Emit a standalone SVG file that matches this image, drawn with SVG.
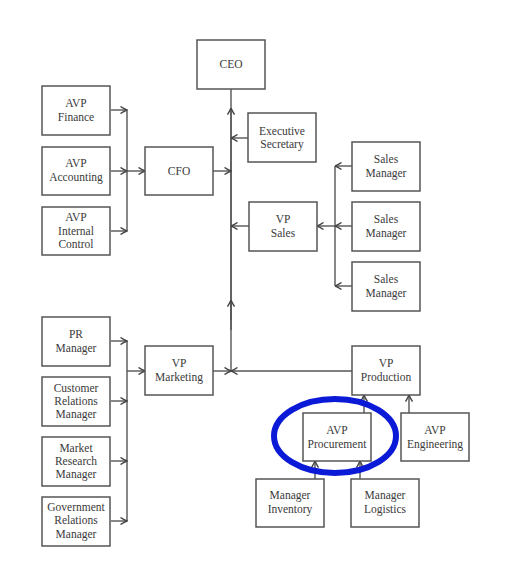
<svg xmlns="http://www.w3.org/2000/svg" width="512" height="588" viewBox="0 0 512 588">
<style>
.b{fill:#fff;stroke:#555;stroke-width:1.5}
.t{font-family:"Liberation Serif",serif;font-size:11.5px;fill:#3a3a3a;text-anchor:middle}
.c{fill:none;stroke:#555;stroke-width:1.4}
.a{marker-end:url(#arr)}
</style>
<defs>
<marker id="arr" viewBox="0 0 8 8" refX="7.5" refY="4" markerWidth="8" markerHeight="8" markerUnits="userSpaceOnUse" orient="auto">
<path d="M1,0.5 Q4,2.5 7.5,4 Q4,5.5 1,7.5" fill="none" stroke="#444" stroke-width="1.4"/>
</marker>
</defs>
<rect width="512" height="588" fill="#fff"/>
<g id="connectors">
<path class="c" d="M231,89 V371"/>
<path class="c a" d="M231,320 V108"/>
<path class="c a" d="M231,330 V300"/>
<path class="c a" d="M111,110 H127"/>
<path class="c a" d="M111,171 H127"/>
<path class="c a" d="M111,231 H127"/>
<path class="c" d="M127,110 V231"/>
<path class="c a" d="M127,171 H145"/>
<path class="c a" d="M213,171 H231"/>
<path class="c a" d="M248,138 H231"/>
<path class="c a" d="M249,226 H231"/>
<path class="c" d="M335,166 V286"/>
<path class="c a" d="M352,166 H335"/>
<path class="c a" d="M352,226 H335"/>
<path class="c a" d="M352,286 H335"/>
<path class="c a" d="M335,226 H317"/>
<path class="c a" d="M213,371 H231"/>
<path class="c a" d="M352,371 H231"/>
<path class="c" d="M127,341 V521"/>
<path class="c a" d="M111,341 H127"/>
<path class="c a" d="M111,401 H127"/>
<path class="c a" d="M111,461 H127"/>
<path class="c a" d="M111,521 H127"/>
<path class="c a" d="M127,371 H145"/>
<path class="c a" d="M364,413 V395"/>
<path class="c a" d="M409,413 V395"/>
<path class="c a" d="M315,479 V461"/>
<path class="c a" d="M360,479 V461"/>
</g>
<g id="ceo"><rect class="b" x="197" y="40" width="68" height="49"/><text class="t" x="231" y="68">CEO</text></g>
<g id="avp-finance"><rect class="b" x="42" y="86" width="68" height="49"/><text class="t" x="76" y="107">AVP</text><text class="t" x="76" y="121">Finance</text></g>
<g id="avp-accounting"><rect class="b" x="42" y="147" width="68" height="48"/><text class="t" x="76" y="167">AVP</text><text class="t" x="76" y="181">Accounting</text></g>
<g id="avp-internal-control"><rect class="b" x="42" y="207" width="68" height="48"/><text class="t" x="76" y="221">AVP</text><text class="t" x="76" y="235">Internal</text><text class="t" x="76" y="248">Control</text></g>
<g id="cfo"><rect class="b" x="145" y="147" width="68" height="48"/><text class="t" x="179" y="175">CFO</text></g>
<g id="executive-secretary"><rect class="b" x="248" y="113" width="68" height="49"/><text class="t" x="282" y="135">Executive</text><text class="t" x="282" y="148">Secretary</text></g>
<g id="sales-manager-1"><rect class="b" x="352" y="142" width="68" height="49"/><text class="t" x="386" y="163">Sales</text><text class="t" x="386" y="177">Manager</text></g>
<g id="sales-manager-2"><rect class="b" x="352" y="202" width="68" height="49"/><text class="t" x="386" y="223">Sales</text><text class="t" x="386" y="237">Manager</text></g>
<g id="sales-manager-3"><rect class="b" x="352" y="262" width="68" height="49"/><text class="t" x="386" y="283">Sales</text><text class="t" x="386" y="297">Manager</text></g>
<g id="vp-sales"><rect class="b" x="249" y="202" width="68" height="49"/><text class="t" x="283" y="223">VP</text><text class="t" x="283" y="237">Sales</text></g>
<g id="pr-manager"><rect class="b" x="42" y="317" width="68" height="49"/><text class="t" x="76" y="338">PR</text><text class="t" x="76" y="352">Manager</text></g>
<g id="customer-relations-manager"><rect class="b" x="42" y="377" width="68" height="49"/><text class="t" x="76" y="392">Customer</text><text class="t" x="76" y="405">Relations</text><text class="t" x="76" y="418">Manager</text></g>
<g id="market-research-manager"><rect class="b" x="42" y="437" width="68" height="49"/><text class="t" x="76" y="452">Market</text><text class="t" x="76" y="465">Research</text><text class="t" x="76" y="478">Manager</text></g>
<g id="government-relations-manager"><rect class="b" x="42" y="497" width="68" height="49"/><text class="t" x="76" y="511">Government</text><text class="t" x="76" y="524">Relations</text><text class="t" x="76" y="538">Manager</text></g>
<g id="vp-marketing"><rect class="b" x="145" y="346" width="68" height="49"/><text class="t" x="179" y="367">VP</text><text class="t" x="179" y="381">Marketing</text></g>
<g id="vp-production"><rect class="b" x="352" y="346" width="68" height="49"/><text class="t" x="386" y="367">VP</text><text class="t" x="386" y="381">Production</text></g>
<g id="avp-procurement"><rect class="b" x="303" y="413" width="68" height="48"/><text class="t" x="337" y="434">AVP</text><text class="t" x="337" y="448">Procurement</text></g>
<g id="avp-engineering"><rect class="b" x="401" y="413" width="68" height="48"/><text class="t" x="435" y="434">AVP</text><text class="t" x="435" y="448">Engineering</text></g>
<g id="manager-inventory"><rect class="b" x="256" y="479" width="68" height="48"/><text class="t" x="290" y="499">Manager</text><text class="t" x="290" y="513">Inventory</text></g>
<g id="manager-logistics"><rect class="b" x="351" y="479" width="68" height="48"/><text class="t" x="385" y="499">Manager</text><text class="t" x="385" y="513">Logistics</text></g>
<ellipse cx="335" cy="436" rx="61" ry="37" fill="none" stroke="#0b1ad6" stroke-width="6"/>
</svg>
